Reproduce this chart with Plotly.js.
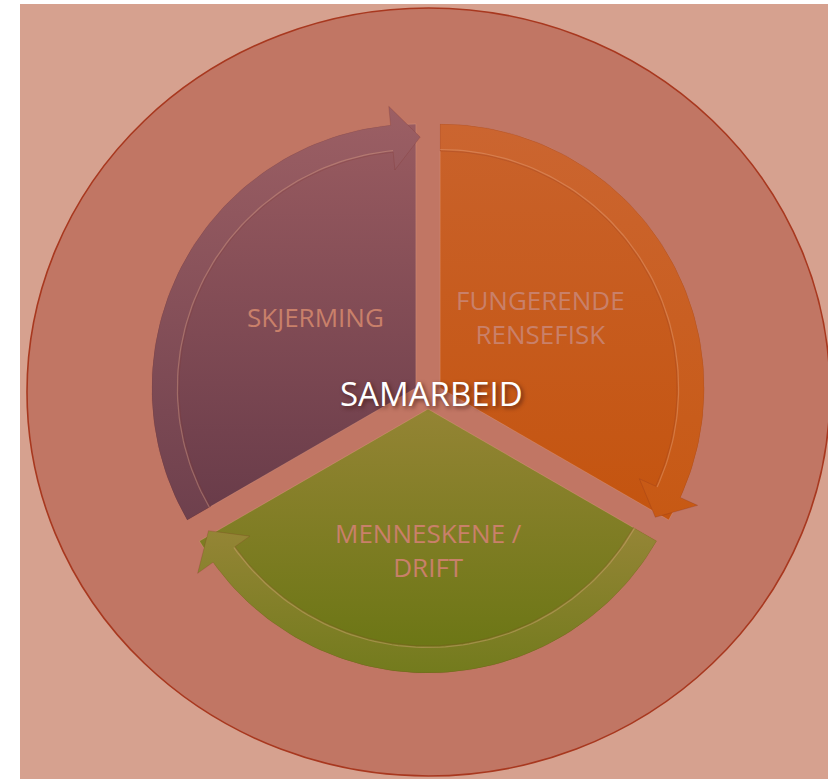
<!DOCTYPE html>
<html><head><meta charset="utf-8">
<script src="https://cdn.plot.ly/plotly-3.0.1.min.js"></script>
<style>html,body{margin:0;padding:0;background:#fff}#chart{width:828px;height:782px}</style>
</head><body><div id="chart"></div>
<script>
// ---------- data ----------
const categories = ['FUNGERENDE<br>RENSEFISK', 'MENNESKENE /<br>DRIFT', 'SKJERMING'];
const shares = [1, 1, 1];
const centerLabel = 'SAMARBEID';

// ---------- style ----------
const bodyTop    = ['#C9622B', '#948434', '#995B60'];
const bodyBottom = ['#C4540F', '#687512', '#683B49'];
const bandTop    = ['#CB6530', '#958536', '#9C5F64'];
const bandBottom = ['#C75914', '#737B1D', '#6E404D'];
const labelColor = '#C9806A';
const pageBg = '#D6A18F', ringFill = '#C17664', ringLine = '#A8381F';

const W = 828, H = 782;
const C = {x: 428, y: 395};
const R_OUT = 264, R_IN = 237, R_MID = 251, HEAD_OUT = 283, HEAD_IN = 219;
const HEAD_BACK = 5.5, TIP_FWD = 1, EXPLODE = 14;

function pt(o, r, deg) { const a = deg * Math.PI / 180; return [o.x + r * Math.cos(a), o.y - r * Math.sin(a)]; }
function arc(o, r, a0, a1, n) { const out = []; for (let k = 0; k <= n; k++) out.push(pt(o, r, a0 + (a1 - a0) * k / n)); return out; }
function xs(p) { return p.map(q => q[0]); }
function ys(p) { return p.map(q => q[1]); }

const total = shares.reduce((a, b) => a + b, 0);
const traces = [];
const annotations = [];
let cum = 0;
shares.forEach((s, i) => {
  const t0 = 90 - 360 * cum / total;
  const t1 = t0 - 360 * s / total;
  cum += s;
  const mid = (t0 + t1) / 2;
  const [ax, ay] = pt(C, EXPLODE, mid);
  const apex = {x: ax, y: ay};

  // sector body
  const body = [[ax, ay], ...arc(apex, R_OUT, t0, t1, 80), [ax, ay]];
  const by = ys(body);
  traces.push({
    type: 'scatter', mode: 'lines', x: xs(body), y: by, fill: 'toself',
    fillcolor: bodyTop[i],
    fillgradient: {type: 'vertical', colorscale: [[0, bodyTop[i]], [1, bodyBottom[i]]],
                   start: Math.min(...by), stop: Math.max(...by)},
    line: {color: 'rgba(235,170,140,0.3)', width: 1}, hoverinfo: 'skip', showlegend: false
  });

  // curved arrow band
  const tb = t1 + HEAD_BACK;
  const band = [
    ...arc(apex, R_OUT, t0, tb, 80),
    pt(apex, HEAD_OUT, tb),
    pt(apex, R_MID, t1 - TIP_FWD),
    pt(apex, HEAD_IN, tb),
    ...arc(apex, R_IN, tb, t0, 80)
  ];
  band.push(band[0]);
  const bny = ys(band);
  traces.push({
    type: 'scatter', mode: 'lines', x: xs(band), y: bny, fill: 'toself',
    fillcolor: bandTop[i],
    fillgradient: {type: 'vertical', colorscale: [[0, bandTop[i]], [1, bandBottom[i]]],
                   start: Math.min(...bny), stop: Math.max(...bny)},
    line: {color: 'rgba(120,40,30,0.2)', width: 1}, hoverinfo: 'skip', showlegend: false
  });
  // subtle highlight on inner edge of band
  const hl = arc(apex, R_IN + 1.5, t0, tb, 80);
  traces.push({
    type: 'scatter', mode: 'lines', x: xs(hl), y: ys(hl),
    line: {color: 'rgba(235,175,140,0.35)', width: 1.2}, hoverinfo: 'skip', showlegend: false
  });

  // label
  annotations.push({
    x: ax + 0.44 * R_OUT * Math.cos(mid * Math.PI / 180),
    y: ay - 0.535 * R_OUT * Math.sin(mid * Math.PI / 180),
    xref: 'x', yref: 'y', text: categories[i], showarrow: false,
    font: {family: 'Open Sans, sans-serif', size: 26, color: labelColor}, align: 'center'
  });
});

annotations.push({
  x: C.x + 3, y: C.y - 2, xref: 'x', yref: 'y', text: centerLabel, showarrow: false,
  font: {family: 'Open Sans, sans-serif', size: 33, color: '#FFFFFF', shadow: '2px 2px 4px rgba(70,25,20,0.75)'}
});

const layout = {
  width: W, height: H, autosize: false,
  margin: {l: 0, r: 0, t: 0, b: 0, pad: 0},
  paper_bgcolor: '#FFFFFF', plot_bgcolor: 'rgba(0,0,0,0)',
  xaxis: {range: [0, W], visible: false, fixedrange: true},
  yaxis: {range: [H, 0], visible: false, fixedrange: true},
  showlegend: false,
  shapes: [
    {type: 'rect', xref: 'x', yref: 'y', x0: 20, x1: W, y0: 4, y1: 779, fillcolor: pageBg, line: {width: 0}, layer: 'below'},
    {type: 'circle', xref: 'x', yref: 'y', x0: 27, x1: 830, y0: 8, y1: 776, fillcolor: ringFill,
     line: {color: ringLine, width: 1.6}, layer: 'below'}
  ],
  annotations: annotations
};

Plotly.newPlot('chart', traces, layout, {displayModeBar: false, staticPlot: true});
</script>
</body></html>
